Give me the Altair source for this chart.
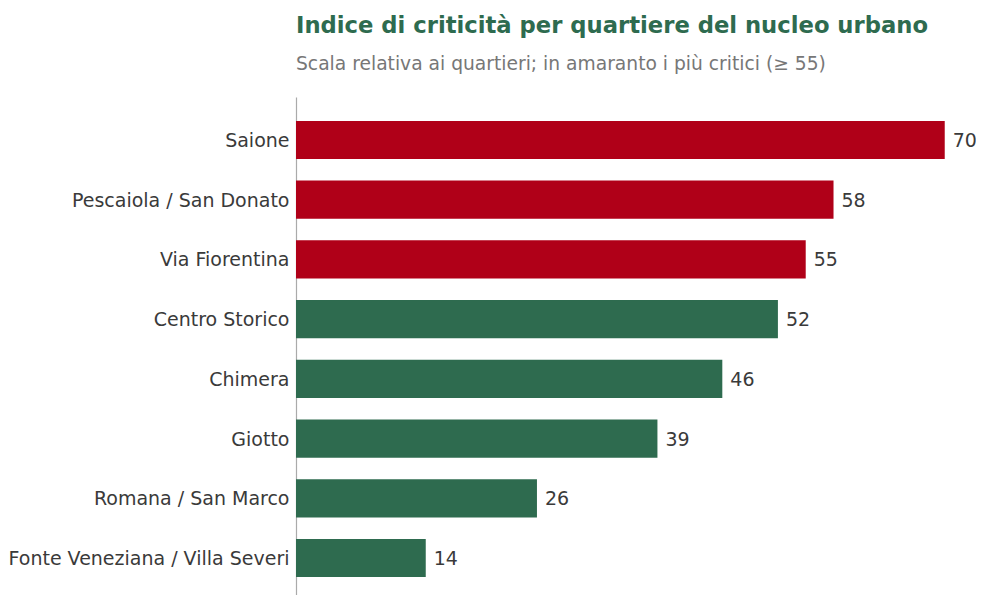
import altair as alt
import pandas as pd

quartieri = ["Saione", "Pescaiola / San Donato", "Via Fiorentina", "Centro Storico",
             "Chimera", "Giotto", "Romana / San Marco", "Fonte Veneziana / Villa Severi"]
valori = [70, 58, 55, 52, 46, 39, 26, 14]
critico = [v >= 55 for v in valori]

df = pd.DataFrame({"quartiere": quartieri, "indice": valori,
                   "gruppo": ["critico" if c else "normale" for c in critico]})

FONT = "DejaVu Sans"

base = alt.Chart(df).encode(
    y=alt.Y("quartiere:N", sort=quartieri, title=None,
            scale=alt.Scale(paddingInner=0.36, paddingOuter=0.4),
            axis=alt.Axis(domain=True, domainColor="#aaaaaa", domainWidth=1.2,
                          ticks=False, labelPadding=7, labelFontSize=19,
                          labelOffset=1,
                          labelColor="#3a3a3a", labelFont=FONT, labelLimit=400)),
)

bars = base.mark_bar().encode(
    x=alt.X("indice:Q", scale=alt.Scale(domain=[0, 71], nice=False), axis=None),
    color=alt.Color("gruppo:N", scale=alt.Scale(domain=["critico", "normale"],
                                               range=["#b00018", "#2e6b4f"]), legend=None),
)

labels = base.mark_text(align="left", baseline="middle", dx=8, dy=1, fontSize=19,
                        font=FONT, color="#3a3a3a").encode(
    x=alt.X("indice:Q"),
    text=alt.Text("indice:Q"),
)

chart = (bars + labels).properties(
    width=658, height=504,
    title=alt.TitleParams(
        text="Indice di criticità per quartiere del nucleo urbano",
        subtitle="Scala relativa ai quartieri; in amaranto i più critici (≥ 55)",
        anchor="start", frame="group", font=FONT, fontSize=22.7, fontWeight="bold",
        color="#2e6b4f",
        subtitleFont=FONT, subtitleFontSize=18.7, subtitleColor="#777777",
        subtitlePadding=18, offset=23),
    autosize=alt.AutoSizeParams(type="none"),
    padding={"left": 288, "top": 89, "right": 22, "bottom": 0},
).configure_view(stroke=None)

chart.save("out.html", embed_options={"renderer": "svg", "actions": False})
